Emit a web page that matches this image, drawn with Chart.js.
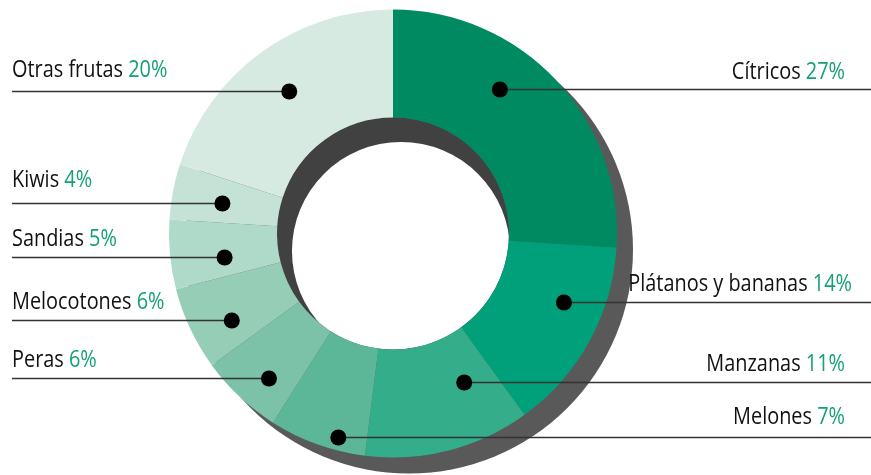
<!DOCTYPE html>
<html>
<head>
<meta charset="utf-8">
<script src="https://cdn.jsdelivr.net/npm/chart.js@4"></script>
<style>
  html, body { margin: 0; padding: 0; background: #fff; }
  #wrap { width: 871px; height: 475px; }
</style>
</head>
<body>
<div id="wrap"><canvas id="chart" width="871" height="475"></canvas></div>
<script>
// data
const categories = ['Cítricos', 'Plátanos y bananas', 'Manzanas', 'Melones', 'Peras',
                    'Melocotones', 'Sandias', 'Kiwis', 'Otras frutas'];
// percentages printed in the labels
const shares = [27, 14, 11, 7, 6, 6, 5, 4, 20];
// slice sizes as drawn in the picture (the first slices are drawn a bit off their labels)
const arcShares = [26, 14, 12, 7, 6, 6, 5, 4, 20];
const sliceColors = ['#008a62', '#00a07a', '#33ad8a', '#5bb797', '#7bc2a8',
                     '#96cdb7', '#afd9c8', '#c4e3d6', '#d7eae2'];

// where the dot sits inside each slice (fraction of angle, fraction of ring depth),
// which side the label goes to and how far the text sits above its leader line
const labelSide = ['right', 'right', 'right', 'right', 'left', 'left', 'left', 'left', 'left'];
const dotAngleFrac = [0.39, 0.36, 0.24, 0.31, 0.38, 0.36, 0.36, 0.45, 0.5];
const dotDepthFrac = [0.59, 0.63, 0.45, 0.88, 0.69, 0.62, 0.5, 0.53, 0.56];
const textGap = [11, 12, 12, 14, 12, 12, 12, 17, 15];
const rightTextEnd = [845, 852, 845, 845, 0, 0, 0, 0, 0];

const FONT = '23px "Open Sans", "Noto Sans", sans-serif';
const FONT_SQUEEZE = 0.865;
const PCT_GREEN = '#15a079';

const shadowPlugin = {
  id: 'shadow',
  beforeDatasetsDraw(chart) {
    const arc = chart.getDatasetMeta(0).data[0];
    if (!arc) return;
    const { x, y, outerRadius, innerRadius } = arc.getProps(['x', 'y', 'outerRadius', 'innerRadius'], true);
    const ctx = chart.ctx;
    ctx.save();
    // outer drop shadow
    ctx.fillStyle = '#595959';
    ctx.beginPath();
    ctx.arc(x + 16, y + 16, outerRadius, 0, Math.PI * 2);
    ctx.fill();
    // hole: dark crescent then white
    ctx.beginPath();
    ctx.arc(x, y, innerRadius, 0, Math.PI * 2);
    ctx.fillStyle = '#414141';
    ctx.fill();
    ctx.clip();
    ctx.fillStyle = '#ffffff';
    ctx.beginPath();
    ctx.arc(x + 8, y + 17.5, innerRadius - 7, 0, Math.PI * 2);
    ctx.fill();
    ctx.restore();
  }
};

function drawSqueezed(ctx, text, x, y) {
  ctx.save();
  ctx.translate(x, y);
  ctx.scale(FONT_SQUEEZE, 1);
  ctx.fillText(text, 0, 0);
  ctx.restore();
}

const calloutPlugin = {
  id: 'callouts',
  afterDatasetsDraw(chart) {
    const ctx = chart.ctx;
    const meta = chart.getDatasetMeta(0);
    ctx.save();
    ctx.font = FONT;
    ctx.textBaseline = 'alphabetic';
    ctx.textAlign = 'left';
    meta.data.forEach((el, i) => {
      const p = el.getProps(['x', 'y', 'startAngle', 'endAngle', 'innerRadius', 'outerRadius'], true);
      const a = p.startAngle + dotAngleFrac[i] * (p.endAngle - p.startAngle);
      const r = p.innerRadius + dotDepthFrac[i] * (p.outerRadius - p.innerRadius);
      const dx = p.x + r * Math.cos(a);
      const dy = Math.round(p.y + r * Math.sin(a)) + 0.5;

      ctx.strokeStyle = '#333333';
      ctx.lineWidth = 1.4;
      ctx.beginPath();
      if (labelSide[i] === 'left') {
        ctx.moveTo(12, dy);
        ctx.lineTo(dx, dy);
      } else {
        ctx.moveTo(dx, dy);
        ctx.lineTo(chart.width, dy);
      }
      ctx.stroke();

      ctx.fillStyle = '#000';
      ctx.beginPath();
      ctx.arc(dx, dy, 8, 0, Math.PI * 2);
      ctx.fill();

      const name = categories[i] + ' ';
      const pct = shares[i] + '%';
      const ty = dy - textGap[i];
      const wName = ctx.measureText(name).width * FONT_SQUEEZE;
      const wPct = ctx.measureText(pct).width * FONT_SQUEEZE;
      const tx = labelSide[i] === 'left' ? 12 : rightTextEnd[i] - wName - wPct;
      ctx.fillStyle = '#111111';
      drawSqueezed(ctx, name, tx, ty);
      ctx.fillStyle = PCT_GREEN;
      drawSqueezed(ctx, pct, tx + wName, ty);
    });
    ctx.restore();
  }
};

new Chart(document.getElementById('chart').getContext('2d'), {
  type: 'doughnut',
  data: {
    labels: categories,
    datasets: [{
      data: arcShares,
      backgroundColor: sliceColors,
      borderWidth: 0,
      offset: 0,
      hoverOffset: 0
    }]
  },
  options: {
    responsive: false,
    devicePixelRatio: 1,
    animation: false,
    cutout: '51.8%',
    layout: { padding: { left: 0, right: 85, top: 9.5, bottom: 17.5 } },
    plugins: {
      legend: { display: false },
      tooltip: { enabled: false }
    },
    events: []
  },
  plugins: [shadowPlugin, calloutPlugin]
});
</script>
</body>
</html>
